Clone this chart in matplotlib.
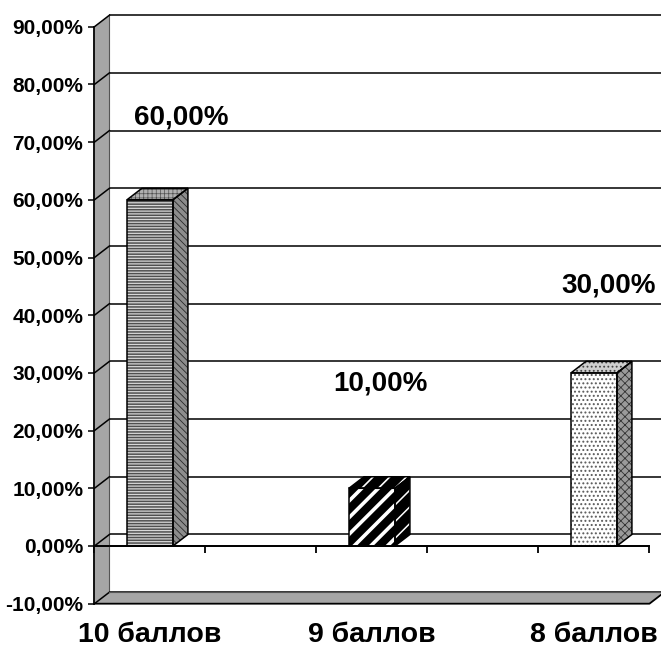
import matplotlib
matplotlib.use("Agg")
import matplotlib.pyplot as plt
from matplotlib.patches import Polygon
from matplotlib.ticker import FuncFormatter

plt.rcParams['font.family'] = ['Liberation Sans', 'DejaVu Sans']
plt.rcParams['font.weight'] = 'bold'

# Data
categories = ["10 баллов", "9 баллов", "8 баллов"]
values = [60.0, 10.0, 30.0]
slots = [0, 2, 4]            # category slots on the axis (empty slots in between)
y_ticks = list(range(-10, 100, 10))
x_ticks = [-0.5, 0.5, 1.5, 2.5, 3.5, 4.5]

# Pseudo-3D geometry (data units)
DX, DY = 0.135, 2.0          # depth offset of the back wall
HW = 0.207                   # half width of a column front face
X0, X1 = -0.5, 4.5           # axis extent
YMIN, YMAX = -10, 90

fig = plt.figure(figsize=(6.61, 6.48), dpi=100)
ax = fig.add_axes([0, 0, 1, 1])
ax.set_xlim(-1.351, 4.604)
ax.set_ylim(-17.68, 94.63)
ax.set_facecolor("white")

WALL = "#a6a6a6"
LW = 1.1

# Back wall gridlines
for v in y_ticks:
    ax.plot([X0 + DX, X1 + DX + 0.2], [v + DY, v + DY], color="black", lw=LW, zorder=1,
            solid_capstyle="butt")

# Left side wall
ax.add_patch(Polygon([(X0, YMIN), (X0, YMAX), (X0 + DX, YMAX + DY), (X0 + DX, YMIN + DY)],
                     closed=True, facecolor=WALL, edgecolor="none", zorder=2))
ax.plot([X0 + DX, X0 + DX], [YMIN + DY, YMAX + DY], color="#555555", lw=0.8, zorder=3)
for v in y_ticks:
    ax.plot([X0, X0 + DX], [v, v + DY], color="black", lw=LW, zorder=3)

# Floor
ax.add_patch(Polygon([(X0, YMIN), (X1, YMIN), (X1 + DX, YMIN + DY), (X0 + DX, YMIN + DY)],
                     closed=True, facecolor=WALL, edgecolor="none", zorder=2))
ax.plot([X0, X1, X1 + DX], [YMIN, YMIN, YMIN + DY], color="black", lw=1.3, zorder=3)
ax.plot([X0 + DX, X1 + DX], [YMIN + DY, YMIN + DY], color="#555555", lw=0.8, zorder=3)


def face(points, fc, hatch, hc, hlw):
    p = Polygon(points, closed=True, facecolor=fc, edgecolor=hc, lw=0,
                hatch=hatch, zorder=5)
    if hasattr(p, "set_hatch_linewidth"):
        p.set_hatch_linewidth(hlw)
    else:
        p._hatch_linewidth = hlw
    ax.add_patch(p)
    ax.add_patch(Polygon(points, closed=True, fill=False, edgecolor="black",
                         lw=1.1, zorder=6))


styles = [
    # front, side, top : (facecolor, hatch, hatch colour, hatch linewidth)
    (("#d8d8d8", "------", "#505050", 1.1),
     ("#8c8c8c", "\\\\\\\\\\", "#2a2a2a", 0.6),
     ("#b0b0b0", "++++", "#505050", 0.5)),
    (("black", "//", "white", 2.6),
     ("black", "//", "white", 1.1),
     ("black", "//", "white", 1.2)),
    (("white", "....", "#5a5a5a", 0.9),
     ("#9a9a9a", "xxxx", "#333333", 0.6),
     ("#cfcfcf", "....", "#444444", 0.8)),
]

for s, val, (fs, ss, ts) in zip(slots, values, styles):
    front = [(s - HW, 0), (s + HW, 0), (s + HW, val), (s - HW, val)]
    side = [(s + HW, 0), (s + HW + DX, DY), (s + HW + DX, val + DY), (s + HW, val)]
    top = [(s - HW, val), (s + HW, val), (s + HW + DX, val + DY), (s - HW + DX, val + DY)]
    face(front, *fs)
    face(side, *ss)
    face(top, *ts)

# Zero plane front edge
ax.plot([X0, X1], [0, 0], color="black", lw=1.3, zorder=7)

# Axes spines and ticks
for name in ("top", "right"):
    ax.spines[name].set_visible(False)
ax.spines["left"].set_position(("data", X0))
ax.spines["left"].set_bounds(YMIN, YMAX)
ax.spines["left"].set_linewidth(1.3)
ax.spines["left"].set_zorder(8)
ax.spines["bottom"].set_position(("data", 0))
ax.spines["bottom"].set_bounds(X0, X1)
ax.spines["bottom"].set_linewidth(1.3)
ax.set_yticks(y_ticks)
ax.yaxis.set_major_formatter(FuncFormatter(lambda v, p: f"{v:.2f}%".replace(".", ",")))
ax.tick_params(axis="y", direction="out", length=4, width=1.1, pad=4, labelsize=15)
ax.set_xticks(x_ticks)
ax.set_xticklabels([])
ax.tick_params(axis="x", direction="out", length=5, width=1.3)

# Category labels
for s, c in zip(slots, categories):
    ax.text(s, -15.4, c, ha="center", va="center", fontsize=20.5, fontweight="bold")

# Value labels
label_pos = [(0.28, 74.3), (2.08, 28.2), (4.13, 45.2)]
for (lx, ly), val in zip(label_pos, values):
    ax.text(lx, ly, f"{val:.2f}%".replace(".", ","), ha="center", va="center",
            fontsize=20, fontweight="bold", zorder=9)

fig.savefig("out.png", dpi=100)
